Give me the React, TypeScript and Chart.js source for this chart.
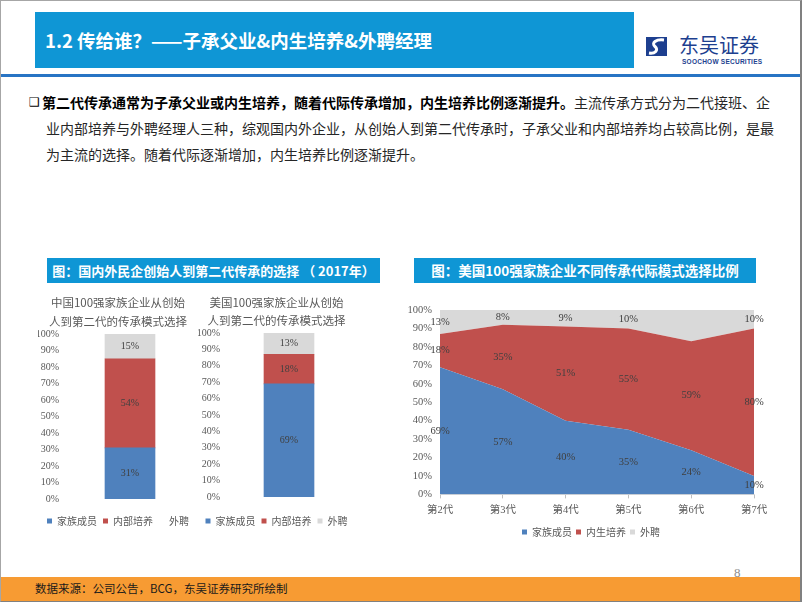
import React, { useEffect, useRef } from "react";
import { Chart, registerables } from "chart.js";

Chart.register(...registerables);

// ---------------- data ----------------
const leftSeries = ["家族成员", "内部培养", "外聘"];
const rightSeries = ["家族成员", "内生培养", "外聘"];

const chinaCategories = ["中国100强家族企业"];
const chinaFamily = [31];
const chinaInternal = [54];
const chinaExternal = [15];

const usCategories = ["美国100强家族企业"];
const usFamily = [69];
const usInternal = [18];
const usExternal = [13];

const generations = ["第2代", "第3代", "第4代", "第5代", "第6代", "第7代"];
const genFamily = [69, 57, 40, 35, 24, 10];
const genInternal = [18, 35, 51, 55, 59, 80];
const genExternal = [13, 8, 9, 10, 17, 10];
const genExternalLabelShown = [true, true, true, true, false, true];

const chinaTitle = ["中国100强家族企业从创始", "人到第二代的传承模式选择"];
const usTitle = ["美国100强家族企业从创始", "人到第二代的传承模式选择"];

// ---------------- styles ----------------
const BLUE = "#4F81BD";
const RED = "#C0504D";
const GREY = "#D9D9D9";
const AXIS_TEXT = "#595959";
const CJK = '"Noto Sans CJK SC", "Noto Sans", sans-serif';
const SERIF = '"Liberation Serif", "Times New Roman", serif';
const SERIF_CJK = '"Liberation Serif", "Noto Sans CJK SC", serif';

const valueLabels = {
  id: "valueLabels",
  afterDatasetsDraw(chart: any, _args: any, opts: any) {
    if (!opts || !opts.enabled) return;
    const ctx = chart.ctx;
    const yScale = chart.scales.y;
    const n = chart.data.labels.length;
    const base = new Array(n).fill(0);
    ctx.save();
    ctx.font = opts.font;
    ctx.fillStyle = opts.color;
    ctx.textAlign = "center";
    ctx.textBaseline = "middle";
    chart.data.datasets.forEach((ds: any, di: number) => {
      const meta = chart.getDatasetMeta(di);
      ds.data.forEach((v: number, i: number) => {
        const mid = base[i] + v / 2;
        base[i] += v;
        if (ds.labelShown && !ds.labelShown[i]) return;
        const el = meta.data[i];
        if (!el) return;
        ctx.fillText(v + "%", el.x, yScale.getPixelForValue(mid));
      });
    });
    ctx.restore();
  },
};

// moves the legend box sideways after layout (style only)
const legendShift = {
  id: "legendShift",
  afterLayout(chart: any, _args: any, opts: any) {
    if (opts && opts.dx && chart.legend) {
      chart.legend.left += opts.dx;
      chart.legend.right += opts.dx;
    }
  },
};

function stackedBarConfig(p: any) {
  return {
    type: "bar",
    data: {
      labels: p.categories,
      datasets: [
        { label: leftSeries[0], data: p.family, backgroundColor: BLUE, barThickness: 50 },
        { label: leftSeries[1], data: p.internal, backgroundColor: RED, barThickness: 50 },
        { label: leftSeries[2], data: p.external, backgroundColor: GREY, barThickness: 50 },
      ],
    },
    options: {
      responsive: false,
      animation: false,
      devicePixelRatio: 1,
      layout: { padding: { left: p.padLeft, right: 0, top: 0, bottom: 0 } },
      scales: {
        x: { display: false, stacked: true },
        y: {
          stacked: true,
          min: 0,
          max: 100,
          grid: { display: false, drawTicks: false },
          border: { display: false },
          ticks: {
            stepSize: 10,
            padding: 3,
            color: AXIS_TEXT,
            font: { family: SERIF, size: 10 },
            callback: (v: any) => v + "%",
          },
          afterFit: (s: any) => {
            s.width = p.axisWidth;
          },
        },
      },
      plugins: {
        title: {
          display: true,
          text: p.title,
          color: AXIS_TEXT,
          font: { family: CJK, size: 11.5, weight: "normal", lineHeight: p.titleLineHeight + "px" },
          padding: { top: p.titlePadTop, bottom: p.titlePadBottom },
        },
        legend: {
          position: "bottom",
          labels: {
            boxWidth: 5,
            boxHeight: 5,
            padding: 6,
            color: AXIS_TEXT,
            font: { family: CJK, size: 10 },
            generateLabels: (chart: any) => {
              const items = (Chart as any).defaults.plugins.legend.labels.generateLabels(chart);
              if (p.hideExternalBox && items[2]) {
                items[2].fillStyle = "rgba(0,0,0,0)";
                items[2].lineWidth = 0;
              }
              return items;
            },
          },
          title: {
            display: true,
            text: "",
            font: { size: 1, lineHeight: 1 },
            padding: { top: p.legendShift, bottom: p.legendShift },
          },
        },
        tooltip: { enabled: false },
        valueLabels: { enabled: true, font: "10px " + SERIF, color: "#404040" },
      },
    },
    plugins: [valueLabels],
  };
}

function areaConfig() {
  const common = {
    borderColor: "rgba(0,0,0,0)",
    borderWidth: 0,
    pointRadius: 0,
    tension: 0,
  };
  return {
    type: "line",
    data: {
      labels: generations,
      datasets: [
        { ...common, label: rightSeries[0], data: genFamily, backgroundColor: BLUE, fill: "origin" },
        { ...common, label: rightSeries[1], data: genInternal, backgroundColor: RED, fill: "-1" },
        {
          ...common,
          label: rightSeries[2],
          data: genExternal,
          labelShown: genExternalLabelShown,
          backgroundColor: GREY,
          fill: "-1",
        },
      ],
    },
    options: {
      responsive: false,
      animation: false,
      devicePixelRatio: 1,
      layout: { padding: { left: 4, right: 26, top: 15, bottom: 0 } },
      scales: {
        x: {
          offset: false,
          grid: { display: true, drawOnChartArea: false, drawTicks: true, tickLength: 4, color: "#BFBFBF" },
          border: { display: true, color: "#D9D9D9" },
          ticks: {
            padding: 6,
            color: AXIS_TEXT,
            maxRotation: 0,
            autoSkip: false,
            font: { family: SERIF_CJK, size: 10.5 },
          },
        },
        y: {
          stacked: true,
          min: 0,
          max: 100,
          grid: { display: false, drawTicks: false },
          border: { display: false },
          ticks: {
            stepSize: 10,
            padding: 8,
            color: AXIS_TEXT,
            font: { family: SERIF, size: 10.5 },
            callback: (v: any) => v + "%",
          },
          afterFit: (s: any) => {
            s.width = 36;
          },
        },
      },
      plugins: {
        legend: {
          position: "bottom",
          labels: {
            boxWidth: 5,
            boxHeight: 5,
            padding: 4,
            color: AXIS_TEXT,
            font: { family: CJK, size: 10 },
          },
        },
        legendShift: { dx: 12 },
        tooltip: { enabled: false },
        valueLabels: { enabled: true, font: "10.5px " + SERIF, color: "#404040" },
      },
    },
    plugins: [valueLabels, legendShift],
  };
}

function ChartCanvas(props: { left: number; top: number; width: number; height: number; make: () => any }) {
  const ref = useRef<HTMLCanvasElement | null>(null);
  useEffect(() => {
    if (!ref.current) return;
    const chart = new Chart(ref.current, props.make());
    return () => chart.destroy();
  }, []);
  return (
    <canvas
      ref={ref}
      width={props.width}
      height={props.height}
      style={{ position: "absolute", left: props.left, top: props.top, width: props.width, height: props.height }}
    />
  );
}

const abs = (s: any) => ({ position: "absolute" as const, whiteSpace: "nowrap" as const, ...s });

export default function App() {
  return (
    <div
      style={{
        position: "absolute",
        left: 0,
        top: 0,
        width: 802,
        height: 602,
        background: "#fff",
        overflow: "hidden",
        fontFamily: CJK,
      }}
    >
      {/* header bar */}
      <div style={abs({ left: 35, top: 12, width: 599, height: 56, background: "#0F96D5" })} />
      <div
        style={abs({
          left: 45,
          top: 12,
          height: 56,
          lineHeight: "56px",
          color: "#fff",
          fontSize: 18.5,
          fontWeight: 700,
        })}
      >
        1.2 传给谁？——子承父业&amp;内生培养&amp;外聘经理
      </div>

      {/* logo */}
      <svg style={abs({ left: 646, top: 36 })} width={24} height={22} viewBox="0 0 24 22">
        <rect x="0" y="1" width="21" height="19" fill="#1D3F8F" />
        <path d="M18 4 C 10 3, 5 7, 9 10.5 C 13 14, 9 18, 3 17" stroke="#fff" strokeWidth="3" fill="none" />
      </svg>
      <div style={abs({ left: 679, top: 34, fontSize: 20, lineHeight: "22px", color: "#1D3F8F" })}>东吴证券</div>
      <div
        style={abs({
          left: 682,
          top: 58,
          fontSize: 6.5,
          lineHeight: "8px",
          fontWeight: 700,
          letterSpacing: 0.25,
          color: "#1D3F8F",
          fontFamily: '"Liberation Sans", Arial, sans-serif',
        })}
      >
        SOOCHOW SECURITIES
      </div>

      {/* header rule */}
      <div style={abs({ left: 0, top: 74, width: 802, height: 3, background: "#2874C4" })} />

      {/* bullet text */}
      <div style={abs({ left: 29, top: 93, fontSize: 12, lineHeight: "18px", fontFamily: '"DejaVu Sans", sans-serif', color: "#000" })}>
        ❑
      </div>
      <div style={abs({ left: 42, top: 92, fontSize: 14, lineHeight: "20px", color: "#262626" })}>
        <span style={{ fontWeight: 700, color: "#000" }}>
          第二代传承通常为子承父业或内生培养，随着代际传承增加，内生培养比例逐渐提升。
        </span>
        主流传承方式分为二代接班、企
      </div>
      <div style={abs({ left: 46, top: 118, fontSize: 14, lineHeight: "20px", color: "#262626" })}>
        业内部培养与外聘经理人三种，综观国内外企业，从创始人到第二代传承时，子承父业和内部培养均占较高比例，是最
      </div>
      <div style={abs({ left: 46, top: 144, fontSize: 14, lineHeight: "20px", color: "#262626" })}>
        为主流的选择。随着代际逐渐增加，内生培养比例逐渐提升。
      </div>

      {/* chart title bars */}
      <div
        style={abs({
          left: 47,
          top: 258,
          width: 333,
          height: 25,
          lineHeight: "25px",
          background: "#0F96D5",
          color: "#fff",
          fontWeight: 700,
          fontSize: 13,
          textAlign: "center",
        })}
      >
        图：国内外民企创始人到第二代传承的选择 （ 2017年）
      </div>
      <div
        style={abs({
          left: 414,
          top: 258,
          width: 342,
          height: 25,
          lineHeight: "25px",
          background: "#0F96D5",
          color: "#fff",
          fontWeight: 700,
          fontSize: 13.5,
          textAlign: "center",
        })}
      >
        图：美国100强家族企业不同传承代际模式选择比例
      </div>

      {/* charts */}
      <ChartCanvas
        left={30}
        top={285}
        width={168}
        height={251}
        make={() =>
          stackedBarConfig({
            categories: chinaCategories,
            family: chinaFamily,
            internal: chinaInternal,
            external: chinaExternal,
            title: chinaTitle,
            titleLineHeight: 19,
            titlePadTop: 8.5,
            titlePadBottom: 2.5,
            padLeft: 8,
            axisWidth: 24,
            legendShift: 5,
            hideExternalBox: true,
          })
        }
      />
      <ChartCanvas
        left={190}
        top={285}
        width={165}
        height={251}
        make={() =>
          stackedBarConfig({
            categories: usCategories,
            family: usFamily,
            internal: usInternal,
            external: usExternal,
            title: usTitle,
            titleLineHeight: 18,
            titlePadTop: 9,
            titlePadBottom: 3,
            padLeft: 8,
            axisWidth: 25,
            legendShift: 6,
            hideExternalBox: false,
          })
        }
      />
      <ChartCanvas left={400} top={295} width={380} height={252} make={areaConfig} />

      {/* page number */}
      <div style={abs({ left: 734, top: 565, fontSize: 13, lineHeight: "16px", fontFamily: SERIF, color: "#8C8C8C" })}>8</div>

      {/* footer */}
      <div style={abs({ left: 0, top: 577, width: 802, height: 25, background: "#F79B33" })} />
      <div style={abs({ left: 35, top: 577, height: 23, lineHeight: "23px", fontSize: 11.5, color: "#1A1A1A" })}>
        数据来源：公司公告，BCG，东吴证券研究所绘制
      </div>

      {/* slide frame */}
      <div
        style={abs({
          left: 0,
          top: 0,
          width: 802,
          height: 602,
          boxSizing: "border-box",
          borderTop: "1px solid #A6A6A6",
          borderLeft: "1px solid #A6A6A6",
          borderBottom: "1px solid #808080",
          borderRight: "2px solid #808080",
          pointerEvents: "none",
        })}
      />
    </div>
  );
}
